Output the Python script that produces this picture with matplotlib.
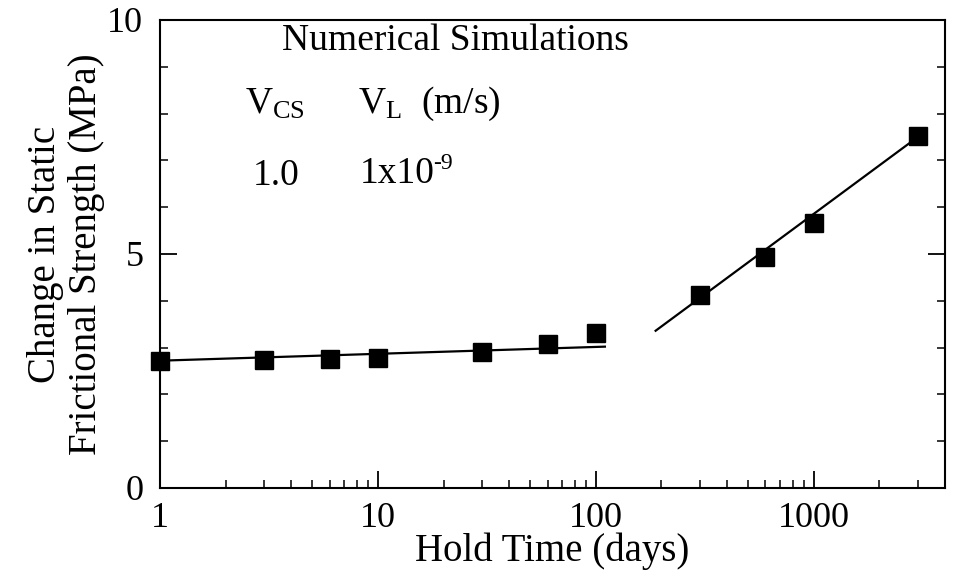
import matplotlib
matplotlib.use('Agg')
import matplotlib.pyplot as plt
import numpy as np
from matplotlib.ticker import LogLocator, NullFormatter, FixedLocator, FixedFormatter

plt.rcParams['font.family'] = ['Liberation Serif', 'DejaVu Serif']
plt.rcParams['mathtext.fontset'] = 'custom'
plt.rcParams['mathtext.rm'] = 'Liberation Serif'
plt.rcParams['mathtext.it'] = 'Liberation Serif:italic'

# data
hold_days = [1, 3, 6, 10, 30, 60, 100, 300, 600, 1000, 3000]
strength = [2.71, 2.73, 2.75, 2.77, 2.90, 3.08, 3.31, 4.12, 4.94, 5.66, 7.52]

fit_short_x = [1, 110]
fit_short_y = [2.72, 3.02]
fit_long_x = [188, 3000]
fit_long_y = [3.36, 7.50]

fig = plt.figure(figsize=(9.54, 5.76), dpi=100)
ax = fig.add_axes([0.1677, 0.1528, 0.8229, 0.8125])

ax.plot(fit_short_x, fit_short_y, color='black', lw=1.6)
ax.plot(fit_long_x, fit_long_y, color='black', lw=1.6)
ax.plot(hold_days, strength, 's', color='black', ms=12.5, clip_on=False, zorder=5)

ax.set_xscale('log')
ax.set_xlim(1, 4000)
ax.set_ylim(0, 10)

ax.xaxis.set_major_locator(FixedLocator([1, 10, 100, 1000]))
ax.xaxis.set_major_formatter(FixedFormatter(['1', '10', '100', '1000']))
ax.xaxis.set_minor_locator(LogLocator(base=10, subs=np.arange(2, 10)))
ax.xaxis.set_minor_formatter(NullFormatter())
ax.set_yticks([0, 5, 10])
ax.set_yticks(np.arange(0, 11, 1), minor=True)

ax.tick_params(which='both', direction='in', top=False, right=True, labelsize=26)
ax.tick_params(axis='x', which='major', pad=10)
ax.tick_params(axis='y', which='major', pad=12)
ax.tick_params(which='major', length=12, width=1.3)
ax.tick_params(which='minor', length=6, width=1.1)
for s in ax.spines.values():
    s.set_linewidth(1.5)

ax.set_xlabel('Hold Time (days)', fontsize=28, labelpad=-2)
ax.set_ylabel('Change in Static\nFrictional Strength (MPa)', fontsize=28,
              linespacing=1.12, labelpad=2)

ax.text(0.376, 0.955, 'Numerical Simulations', transform=ax.transAxes,
        fontsize=27, ha='center', va='center')
ax.text(0.108, 0.82, r'$\mathrm{V}_{\mathrm{CS}}$', transform=ax.transAxes,
        fontsize=27, ha='left', va='center')
ax.text(0.252, 0.82, r'$\mathrm{V}_{\mathrm{L}}$  (m/s)', transform=ax.transAxes,
        fontsize=27, ha='left', va='center')
ax.text(0.118, 0.668, '1.0', transform=ax.transAxes,
        fontsize=27, ha='left', va='center')
ax.text(0.255, 0.672, '1x10', transform=ax.transAxes,
        fontsize=27, ha='left', va='center')
ax.text(0.348, 0.716, '-9', transform=ax.transAxes,
        fontsize=17, ha='left', va='top')

fig.savefig('out.png', dpi=100, facecolor='white')
